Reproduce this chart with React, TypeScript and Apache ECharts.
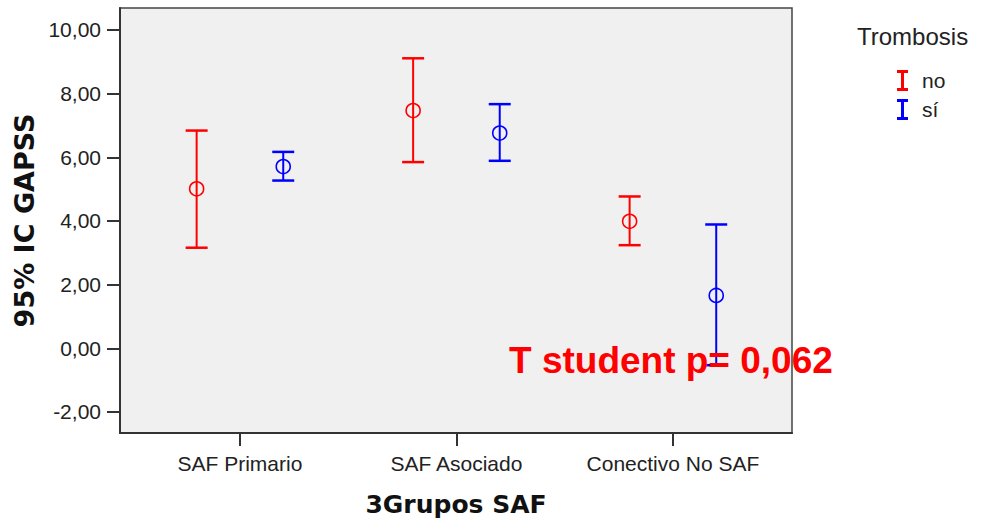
import React, { useEffect, useRef } from "react";
import * as echarts from "echarts";

// ---- data ----
const categories = ["SAF Primario", "SAF Asociado", "Conectivo No SAF"];
const yTickValues = [-2, 0, 2, 4, 6, 8, 10];
const seriesNames = ["no", "sí"];

// Trombosis = no
const noMean = [5.01, 7.47, 3.99];
const noLow = [3.16, 5.85, 3.24];
const noHigh = [6.84, 9.11, 4.77];

// Trombosis = sí
const siMean = [5.71, 6.76, 1.66];
const siLow = [5.27, 5.89, -0.53];
const siHigh = [6.17, 7.67, 3.89];

const annotation = "T student p= 0,062";
const legendTitle = "Trombosis";

// ---- style ----
const RED = "#ff0000";
const BLUE = "#0000ff";
const GROUP_OFFSET = 0.2;
const CAP_HALF = 11;
const FONT = "'Liberation Sans', Arial, sans-serif";
const BOLD_FONT = "'DejaVu Sans', Verdana, sans-serif";

const fmt = (v: number) => v.toFixed(2).replace(".", ",");

function makeRender(color: string, offset: number) {
  return (params: any, api: any) => {
    const x = api.value(0) + offset;
    const lo = api.coord([x, api.value(1)]);
    const hi = api.coord([x, api.value(2)]);
    const mn = api.coord([x, api.value(3)]);
    return {
      type: "group",
      children: [
        {
          type: "line",
          shape: { x1: hi[0], y1: hi[1], x2: lo[0], y2: lo[1] },
          style: { stroke: color, lineWidth: 2 },
        },
        {
          type: "line",
          shape: { x1: hi[0] - CAP_HALF, y1: hi[1], x2: hi[0] + CAP_HALF, y2: hi[1] },
          style: { stroke: color, lineWidth: 2.5 },
        },
        {
          type: "line",
          shape: { x1: lo[0] - CAP_HALF, y1: lo[1], x2: lo[0] + CAP_HALF, y2: lo[1] },
          style: { stroke: color, lineWidth: 2.5 },
        },
        {
          type: "circle",
          shape: { cx: mn[0], cy: mn[1], r: 7 },
          style: { fill: "none", stroke: color, lineWidth: 1.6 },
        },
      ],
    };
  };
}

const IBEAM = "path://M0,0 H11 V3 H7 V18 H11 V21 H0 V18 H4 V3 H0 Z";

export default function App() {
  const ref = useRef<HTMLDivElement>(null);

  useEffect(() => {
    document.body.style.margin = "0";
    const chart = echarts.init(ref.current!, null, { renderer: "svg" });

    const noData = categories.map((_, i) => [i + 1, noLow[i], noHigh[i], noMean[i]]);
    const siData = categories.map((_, i) => [i + 1, siLow[i], siHigh[i], siMean[i]]);

    chart.setOption({
      animation: false,
      backgroundColor: "#ffffff",
      grid: {
        left: 120,
        top: 8,
        right: 191,
        bottom: 92,
        show: true,
        backgroundColor: "#f0f0f0",
        borderColor: "#444",
        borderWidth: 1.5,
      },
      xAxis: {
        type: "value",
        min: 0.446,
        max: 3.55,
        name: "3Grupos SAF",
        nameLocation: "middle",
        nameGap: 59,
        nameTextStyle: { fontFamily: BOLD_FONT, fontWeight: "bold", fontSize: 25, color: "#111" },
        axisLine: { show: true, onZero: false, lineStyle: { color: "#333", width: 2 } },
        axisTick: { show: true, length: 13, customValues: [1, 2, 3], lineStyle: { color: "#333", width: 2 } },
        axisLabel: {
          customValues: [1, 2, 3],
          formatter: (v: number) => categories[Math.round(v) - 1] ?? "",
          margin: 20,
          fontFamily: FONT,
          fontSize: 21,
          color: "#222",
        },
        splitLine: { show: false },
      },
      yAxis: {
        type: "value",
        min: -2.66,
        max: 10.69,
        name: "95% IC GAPSS",
        nameLocation: "middle",
        nameGap: 80,
        nameRotate: 90,
        nameTextStyle: { fontFamily: BOLD_FONT, fontWeight: "bold", fontSize: 27, color: "#111" },
        axisLine: { show: true, onZero: false, lineStyle: { color: "#333", width: 2 } },
        axisTick: { show: true, length: 13, customValues: yTickValues, lineStyle: { color: "#333", width: 2 } },
        axisLabel: {
          customValues: yTickValues,
          formatter: (v: number) => fmt(v),
          margin: 19,
          fontFamily: FONT,
          fontSize: 21,
          color: "#222",
        },
        splitLine: { show: false },
      },
      legend: {
        orient: "vertical",
        left: 892,
        top: 65,
        itemWidth: 11,
        itemHeight: 21,
        itemGap: 8,
        icon: IBEAM,
        data: seriesNames,
        textStyle: { fontFamily: FONT, fontSize: 21, color: "#222", padding: [0, 0, 0, 9] },
      },
      graphic: [
        {
          type: "text",
          left: 857,
          top: 24,
          style: { text: legendTitle, fontFamily: FONT, fontSize: 24, fill: "#222" },
        },
        {
          type: "text",
          left: 509,
          top: 342,
          z: 100,
          style: { text: annotation, fontFamily: "'Liberation Sans', Arial, sans-serif", fontWeight: "bold", fontSize: 37, fill: RED },
        },
      ],
      series: [
        {
          name: seriesNames[0],
          type: "custom",
          itemStyle: { color: RED },
          renderItem: makeRender(RED, -GROUP_OFFSET),
          encode: { x: 0, y: [1, 2, 3] },
          data: noData,
        },
        {
          name: seriesNames[1],
          type: "custom",
          itemStyle: { color: BLUE },
          renderItem: makeRender(BLUE, GROUP_OFFSET),
          encode: { x: 0, y: [1, 2, 3] },
          data: siData,
        },
      ],
    });

    return () => chart.dispose();
  }, []);

  return <div ref={ref} style={{ width: 983, height: 525 }} />;
}
